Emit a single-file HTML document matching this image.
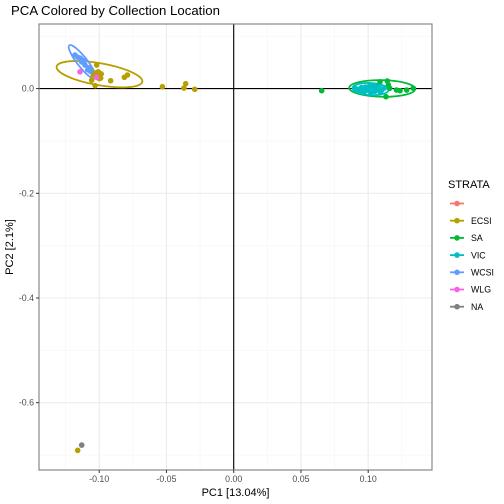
<!DOCTYPE html>
<html><head><meta charset="utf-8"><style>
body{margin:0;background:#fff}
svg{display:block;font-family:"Liberation Sans",sans-serif}
</style></head><body>
<svg id="c" width="504" height="504" viewBox="0 0 504 504"></svg>
<script>
const xMajor=[-0.10,-0.05,0.00,0.05,0.10];
const xMajorLabels=["-0.10","-0.05","0.00","0.05","0.10"];
const xMinor=[-0.125,-0.075,-0.025,0.025,0.075,0.125];
const yMajor=[0,-0.2,-0.4,-0.6];
const yMajorLabels=["0.0","-0.2","-0.4","-0.6"];
const yMinor=[0.1,-0.1,-0.3,-0.5,-0.7];
const strata=["","ECSI","SA","VIC","WCSI","WLG","NA"];
const strataColors=["#F8766D","#B79F00","#00BA38","#00BFC4","#619CFF","#F564E3","#7F7F7F"];
const ecsiX=[-0.0915,-0.0813,-0.079,-0.053,-0.037,-0.0357,-0.029,-0.103,-0.1019,-0.1007,-0.0994,-0.1044,-0.1056,-0.0989,-0.1068,-0.116,-0.1000,-0.1030,-0.0985];
const ecsiY=[0.015,0.0216,0.026,0.0036,0.001,0.0094,-0.0013,0.0056,0.045,0.032,0.026,0.026,0.016,0.020,0.036,-0.691,0.019,0.030,0.028];
const saX=[0.0654,0.1088,0.1142,0.116,0.121,0.1237,0.1286,0.1335,0.1132,0.1063,0.115];
const saY=[-0.004,0.013,0.0145,0.0006,-0.0027,-0.004,-0.0027,0.0006,-0.0155,0.0036,0.007];
const vicX=[0.100,0.105,0.098,0.110,0.095,0.102,0.108,0.092,0.104,0.097,0.106,0.112,0.094,0.101,0.109,0.099,0.103,0.090];
const vicY=[0.000,-0.005,0.003,-0.003,0.002,-0.008,0.004,-0.001,0.006,-0.006,-0.002,0.001,-0.004,0.005,-0.007,-0.003,0.002,0.001];
const wcsiX=[-0.118,-0.114,-0.1106,-0.1085,-0.113,-0.108,-0.116,-0.111,-0.1065];
const wcsiY=[0.064,0.058,0.045,0.036,0.051,0.040,0.060,0.054,0.033];
const wlgX=[-0.1143,-0.1019];
const wlgY=[0.032,0.0216];
const naX=[-0.113];
const naY=[-0.681];
const ellCx=[-0.0998,-0.1126,0.1104,0.1017];
const ellCy=[0.0275,0.051,0.0003,-0.0008];
const ellStrata=["ECSI","WCSI","SA","VIC"];

const L=39,R=432,T=24,B=470;
const sx=v=>233.7+v*1345;
const sy=v=>88.6-v*523.5;
const NS="http://www.w3.org/2000/svg";
const svg=document.getElementById('c');
function mk(tag,attrs,parent){const e=document.createElementNS(NS,tag);for(const k in attrs)e.setAttribute(k,attrs[k]);(parent||svg).appendChild(e);return e;}
const col=s=>strataColors[strata.indexOf(s)];

let t=mk('text',{x:11,y:15,'font-size':13.2,fill:'#000'});t.textContent="PCA Colored by Collection Location";



const grid=mk('g',{});


xMinor.forEach(v=>mk('line',{x1:sx(v),x2:sx(v),y1:T,y2:B,stroke:'#F5F5F5','stroke-width':0.6},grid));
yMinor.forEach(v=>mk('line',{x1:L,x2:R,y1:sy(v),y2:sy(v),stroke:'#F5F5F5','stroke-width':0.6},grid));
xMajor.forEach(v=>mk('line',{x1:sx(v),x2:sx(v),y1:T,y2:B,stroke:'#EBEBEB','stroke-width':1.1},grid));
yMajor.forEach(v=>mk('line',{x1:L,x2:R,y1:sy(v),y2:sy(v),stroke:'#EBEBEB','stroke-width':1.1},grid));

let zl=mk('line',{x1:sx(0),x2:sx(0),y1:T,y2:B,stroke:'#000','stroke-width':1.1});


let zl2=mk('line',{x1:L,x2:R,y1:sy(0),y2:sy(0),stroke:'#000','stroke-width':1.1});



const ellA=[43.5,21,33,18],ellB=[11,5,8.3,6],ellAng=[10,52,1,3];
ellStrata.forEach((s,i)=>{
  const e=mk('ellipse',{cx:sx(ellCx[i]),cy:sy(ellCy[i]),rx:ellA[i],ry:ellB[i],fill:'none',stroke:col(s),'stroke-width':1.8,transform:`rotate(${ellAng[i]} ${sx(ellCx[i])} ${sy(ellCy[i])})`});
  
  
});

function pts(xs,ys,s){
  const g=mk('g',{fill:col(s)});
  
  
  xs.forEach((x,i)=>{const c=mk('circle',{cx:sx(x),cy:sy(ys[i]),r:2.8},g);
    
    });
}
pts(saX,saY,"SA");pts(vicX,vicY,"VIC");pts(ecsiX,ecsiY,"ECSI");pts(wcsiX,wcsiY,"WCSI");pts(wlgX,wlgY,"WLG");pts(naX,naY,"NA");

let pb=mk('rect',{x:L,y:T,width:R-L,height:B-T,fill:'none',stroke:'#7F7F7F','stroke-width':1.1});



xMajor.forEach((v,i)=>{mk('line',{x1:sx(v),x2:sx(v),y1:B,y2:B+3,stroke:'#333'});
  const tx=mk('text',{x:sx(v),y:B+12,'font-size':8.8,fill:'#4D4D4D','text-anchor':'middle'});tx.textContent=xMajorLabels[i];
  
  });
yMajor.forEach((v,i)=>{mk('line',{x1:L-3,x2:L,y1:sy(v),y2:sy(v),stroke:'#333'});
  const tx=mk('text',{x:L-5,y:sy(v)+3,'font-size':8.8,fill:'#4D4D4D','text-anchor':'end'});tx.textContent=yMajorLabels[i];
  
  });

let xt=mk('text',{x:235.5,y:496,'font-size':11,fill:'#000','text-anchor':'middle'});xt.textContent="PC1 [13.04%]";


let yt=mk('text',{x:0,y:0,'font-size':11,fill:'#000','text-anchor':'middle',transform:'translate(13,247) rotate(-90)'});yt.textContent="PC2 [2.1%]";



const lg=mk('g',{});


let lt=mk('text',{x:448,y:188,'font-size':11,fill:'#000'},lg);lt.textContent="STRATA";
strata.forEach((s,i)=>{
  const y=203.5+i*17.2;
  const g=mk('g',{},lg);
  
  
  mk('line',{x1:450,x2:464,y1:y,y2:y,stroke:strataColors[i],'stroke-width':1.8},g);
  mk('circle',{cx:457,cy:y,r:2.8,fill:strataColors[i]},g);
  const tx=mk('text',{x:471,y:y+3.2,'font-size':8.8,fill:'#000'},g);tx.textContent=s;
});
</script>
</body></html>
